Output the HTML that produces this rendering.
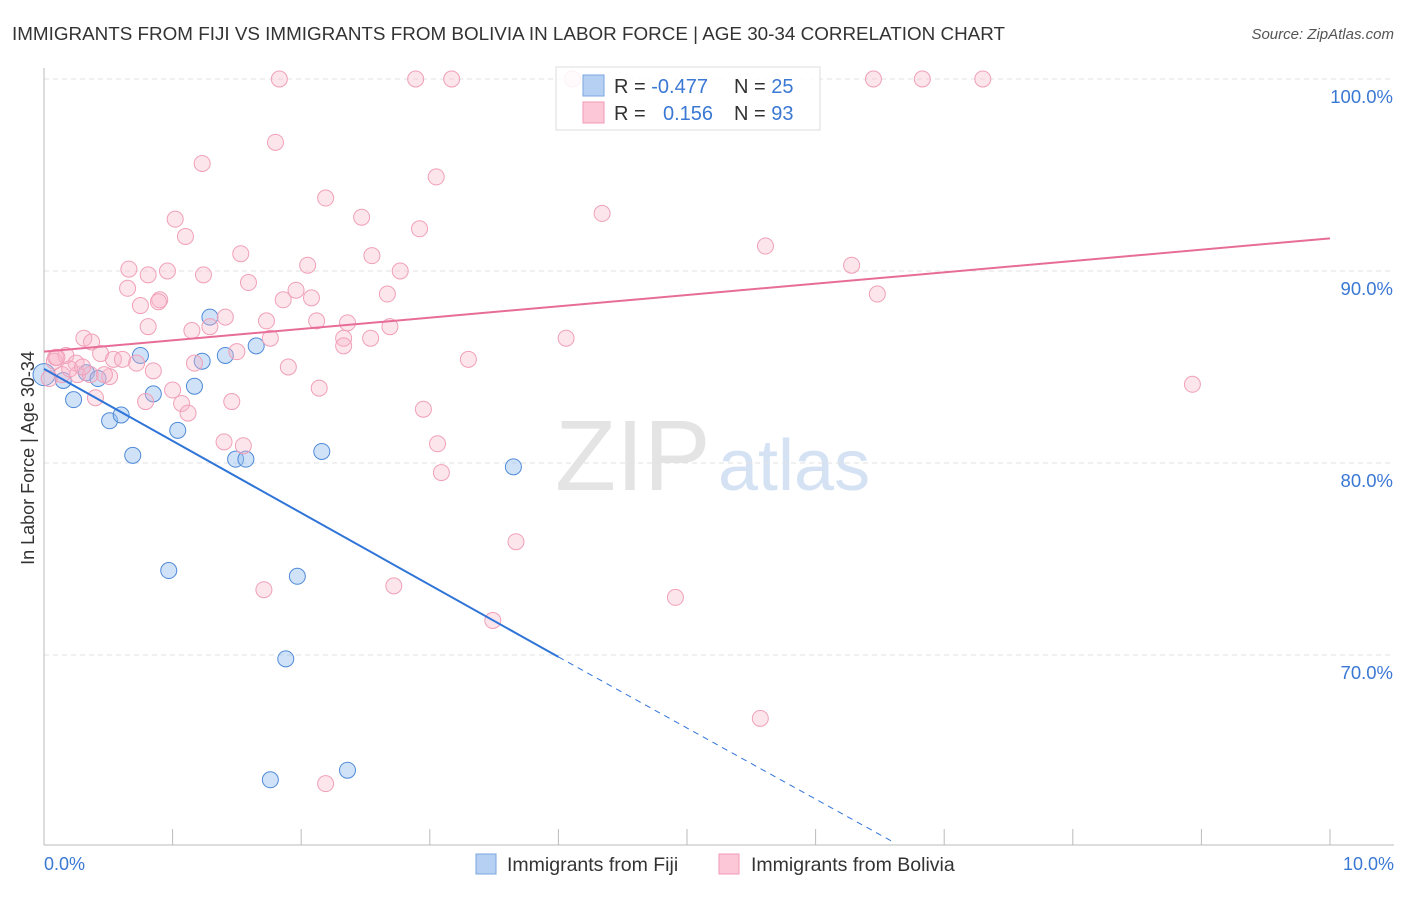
<!DOCTYPE html>
<html><head><meta charset="utf-8"><style>
body{margin:0;background:#fff;font-family:"Liberation Sans",sans-serif;}
svg text{font-family:"Liberation Sans",sans-serif;}
</style></head><body>
<svg id="chart" width="1406" height="892">
<text x="12" y="40" font-size="18.5" fill="#333" textLength="993" lengthAdjust="spacingAndGlyphs">IMMIGRANTS FROM FIJI VS IMMIGRANTS FROM BOLIVIA IN LABOR FORCE | AGE 30-34 CORRELATION CHART</text>
<text x="1394" y="39" font-size="15" fill="#555" font-style="italic" text-anchor="end">Source: ZipAtlas.com</text>
<text x="555" y="490" font-size="100" fill="#e4e4e4" font-family="Liberation Serif">ZIP</text>
<text x="718" y="490" font-size="72" fill="#d4e2f4">atlas</text>
<g id="grid"></g><g id="axes"></g><g id="fijiPts"></g><g id="bolPts"></g><g id="lines"></g>
<text x="34" y="458" font-size="18" fill="#333" text-anchor="middle" transform="rotate(-90 34 458)">In Labor Force | Age 30-34</text>
<text x="44" y="870" font-size="18" fill="#3a78d4">0.0%</text>
<text x="1394" y="870" font-size="18" fill="#3a78d4" text-anchor="end">10.0%</text>
<g>
<rect x="556" y="67" width="264" height="63" fill="rgba(255,255,255,0.85)" stroke="#ddd"/>
<rect x="583" y="75" width="21" height="21" fill="#b5d0f3" stroke="#7aa6e0"/>
<rect x="583" y="102" width="21" height="21" fill="#fcc8d8" stroke="#f09ab4"/>
<text x="614" y="93" font-size="20" fill="#333">R = <tspan fill="#3a78d4">-0.477</tspan></text>
<text x="734" y="93" font-size="20" fill="#333">N = <tspan fill="#3a78d4">25</tspan></text>
<text x="614" y="120" font-size="20" fill="#333">R = </text>
<text x="663" y="120" font-size="20" fill="#3a78d4">0.156</text>
<text x="734" y="120" font-size="20" fill="#333">N = <tspan fill="#3a78d4">93</tspan></text>
</g>
<g>
<rect x="476" y="854" width="20" height="20" fill="#b5d0f3" stroke="#7aa6e0"/>
<text x="507" y="871" font-size="19.5" fill="#333">Immigrants from Fiji</text>
<rect x="719" y="854" width="20" height="20" fill="#fcc8d8" stroke="#f09ab4"/>
<text x="751" y="871" font-size="19.5" fill="#333">Immigrants from Bolivia</text>
</g>
</svg>
<script>
const yTicks=[100,90,80,70];
const yTickLabels=["100.0%","90.0%","80.0%","70.0%"];
const xTicks=[0,1,2,3,4,5,6,7,8,9,10];
const fijiX=[0.0,0.15,0.23,0.33,0.42,0.51,0.6,0.69,0.75,0.85,0.97,1.04,1.17,1.23,1.29,1.41,1.49,1.57,1.65,1.76,1.88,1.97,2.16,2.36,3.65];
const fijiY=[84.6,84.3,83.3,84.7,84.4,82.2,82.5,80.4,85.6,83.6,74.4,81.7,84.0,85.3,87.6,85.6,80.2,80.2,86.1,63.5,69.8,74.1,80.6,64.0,79.8];
const bolX=[1.83,2.89,3.17,4.11,6.45,6.83,7.30,1.80,1.23,3.05,2.19,4.34,1.02,2.47,2.92,1.10,5.61,1.53,2.55,6.28,0.66,0.96,2.05,0.81,1.24,2.77,0.65,1.59,1.96,6.48,2.67,0.90,1.86,2.08,0.75,0.89,1.41,1.73,2.12,1.29,0.81,2.36,2.69,1.15,4.06,0.31,2.54,2.33,1.76,0.37,1.50,2.33,0.09,0.17,0.44,0.25,0.54,0.72,0.61,3.3,1.17,1.9,0.85,0.51,0.26,0.36,0.14,8.93,1.0,2.14,0.4,0.79,1.46,1.07,1.12,2.95,1.4,1.55,3.06,3.09,3.67,2.72,1.71,4.91,3.49,5.57,2.19,0.08,0.04,0.2,0.47,0.1,0.3];
const bolY=[100,100,100,100,100,100,100,96.7,95.6,94.9,93.8,93.0,92.7,92.8,92.2,91.8,91.3,90.9,90.8,90.3,90.1,90.0,90.3,89.8,89.8,90.0,89.1,89.4,89.0,88.8,88.8,88.5,88.5,88.6,88.2,88.4,87.6,87.4,87.4,87.1,87.1,87.3,87.1,86.9,86.5,86.5,86.5,86.5,86.5,86.3,85.8,86.1,85.5,85.6,85.7,85.2,85.4,85.2,85.4,85.4,85.2,85.0,84.8,84.5,84.6,84.6,84.6,84.1,83.8,83.9,83.4,83.2,83.2,83.1,82.6,82.8,81.1,80.9,81.0,79.5,75.9,73.6,73.4,73.0,71.8,66.7,63.3,85.3,84.4,84.9,84.6,85.5,85.0];
const X=v=>44+v*128.6, Y=v=>79+(100-v)*19.2;
const NS="http://www.w3.org/2000/svg";
function mk(t,a,p){const e=document.createElementNS(NS,t);for(const k in a)e.setAttribute(k,a[k]);document.getElementById(p).appendChild(e);return e;}
yTicks.forEach((t,i)=>{
 const l=mk('line',{x1:44,x2:1394,y1:Y(t),y2:Y(t),stroke:'#e2e2e2','stroke-dasharray':'5,4'},'grid');
 
 
 const tx=mk('text',{x:1393,y:Y(t)+24,'font-size':18.5,fill:'#3a78d4','text-anchor':'end'},'grid');
 tx.textContent=yTickLabels[i];
 
 
});
const ax=mk('line',{x1:44,x2:44,y1:68,y2:845,stroke:'#bbb'},'axes');


const bx=mk('line',{x1:44,x2:1394,y1:845,y2:845,stroke:'#bbb'},'axes');


xTicks.forEach(t=>{
 const l=mk('line',{x1:X(t),x2:X(t),y1:829,y2:845,stroke:'#bbb'},'axes');
 
 
});
fijiX.forEach((v,i)=>{
 const c=mk('circle',{cx:X(v),cy:Y(fijiY[i]),r:i==0?11:8,fill:'rgba(150,190,240,0.45)',stroke:'#4f8ad8','stroke-width':1},'fijiPts');
 
 
});
bolX.forEach((v,i)=>{
 const c=mk('circle',{cx:X(v),cy:Y(bolY[i]),r:8,fill:'rgba(250,180,200,0.35)',stroke:'#f0a0b8','stroke-width':1},'bolPts');
 
 
});
const f1=mk('line',{x1:X(0),y1:Y(84.9),x2:X(4.0),y2:Y(69.9),stroke:'#2f74d8','stroke-width':2},'lines');


const f2=mk('line',{x1:X(4.0),y1:Y(69.9),x2:X(6.62),y2:Y(60.2),stroke:'#2f74d8','stroke-width':1,'stroke-dasharray':'6,5'},'lines');


const b1=mk('line',{x1:X(0),y1:Y(85.8),x2:X(10),y2:Y(91.7),stroke:'#e76d98','stroke-width':2},'lines');


</script>
</body></html>
